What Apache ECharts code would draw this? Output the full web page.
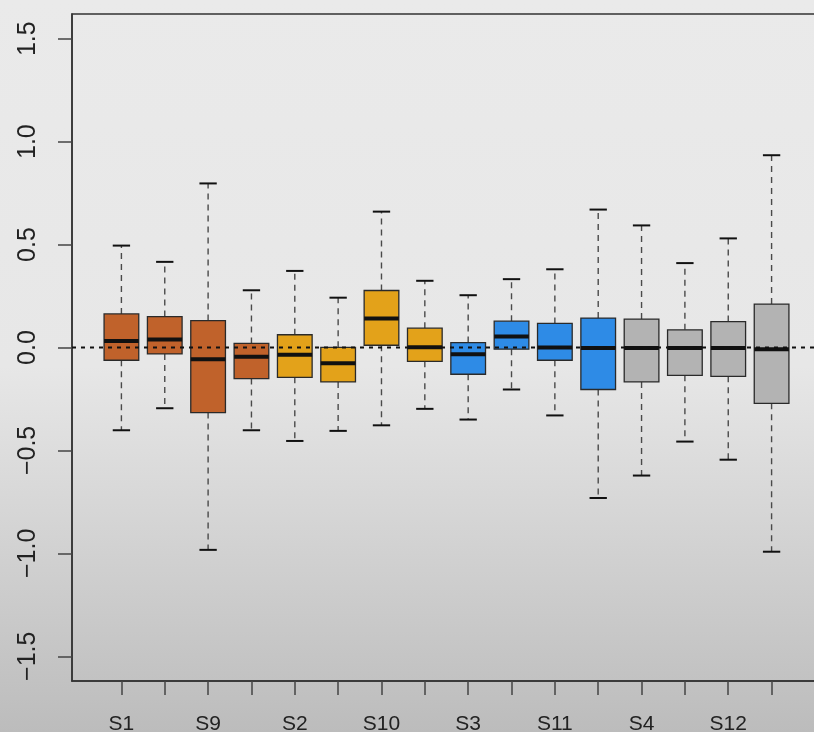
<!DOCTYPE html>
<html>
<head>
<meta charset="utf-8">
<script src="https://cdn.jsdelivr.net/npm/echarts@6/dist/echarts.min.js"></script>
<style>html,body{margin:0;padding:0;}#c{width:814px;height:732px;}</style>
</head>
<body>
<div id="c"></div>
<script>
// categories in plotting order (only every other label is drawn, as in the original)
const categories = ['S1','S5','S9','S13','S2','S6','S10','S14','S3','S7','S11','S15','S4','S8','S12','S16'];
const groupOf = [0,0,0,0,1,1,1,1,2,2,2,2,3,3,3,3];
const groupColors = ['#C0622B','#E3A21A','#2E8BE6','#B3B3B3'];
// box statistics
const lowWhisker = [-0.402,-0.295,-0.983,-0.402,-0.454,-0.405,-0.378,-0.298,-0.350,-0.204,-0.330,-0.731,-0.622,-0.457,-0.545,-0.992];
const q1         = [-0.062,-0.031,-0.316,-0.151,-0.145,-0.167, 0.011,-0.067,-0.130,-0.008,-0.062,-0.204,-0.167,-0.135,-0.140,-0.271];
const medians    = [ 0.032, 0.039,-0.057,-0.045,-0.035,-0.077, 0.141, 0.001,-0.033, 0.054, 0.000,-0.003,-0.003,-0.003,-0.003,-0.008];
const q3         = [ 0.163, 0.150, 0.131, 0.020, 0.062, 0.001, 0.277, 0.094, 0.024, 0.128, 0.117, 0.143, 0.138, 0.086, 0.126, 0.211];
const highWhisker= [ 0.495, 0.416, 0.797, 0.278, 0.372, 0.242, 0.660, 0.324, 0.254, 0.332, 0.380, 0.670, 0.593, 0.410, 0.530, 0.934];
const yTicks = [-1.5,-1.0,-0.5,0.0,0.5,1.0,1.5];
const refLineY = 0;

const boxData = categories.map((c, i) => [i + 1, lowWhisker[i], q1[i], medians[i], q3[i], highWhisker[i], groupOf[i]]);
const xTicks = categories.map((c, i) => i + 1);
const xLabelPos = xTicks.filter((v, i) => i % 2 === 0);

function renderBox(params, api) {
  const x = api.value(0);
  const lo = api.value(1), b1 = api.value(2), md = api.value(3), b3 = api.value(4), hi = api.value(5);
  const col = groupColors[api.value(6)];
  const half = api.size([0.8, 0])[0] / 2;
  const capHalf = half / 2;
  const pLo = api.coord([x, lo]), pQ1 = api.coord([x, b1]), pMd = api.coord([x, md]), pQ3 = api.coord([x, b3]), pHi = api.coord([x, hi]);
  const cx = pMd[0];
  const dash = {stroke: '#4a4a4a', lineWidth: 1.4, lineDash: [6, 5]};
  const cap = {stroke: '#111', lineWidth: 2};
  return {
    type: 'group',
    children: [
      {type: 'line', shape: {x1: cx, y1: pQ3[1], x2: cx, y2: pHi[1]}, style: dash},
      {type: 'line', shape: {x1: cx, y1: pQ1[1], x2: cx, y2: pLo[1]}, style: dash},
      {type: 'line', shape: {x1: cx - capHalf, y1: pHi[1], x2: cx + capHalf, y2: pHi[1]}, style: cap},
      {type: 'line', shape: {x1: cx - capHalf, y1: pLo[1], x2: cx + capHalf, y2: pLo[1]}, style: cap},
      {type: 'rect', shape: {x: cx - half, y: pQ3[1], width: 2 * half, height: pQ1[1] - pQ3[1]},
       style: {fill: col, stroke: '#2a2a2a', lineWidth: 1.3}},
      {type: 'line', shape: {x1: cx - half, y1: pMd[1], x2: cx + half, y2: pMd[1]}, style: {stroke: '#111', lineWidth: 4}}
    ]
  };
}

const chart = echarts.init(document.getElementById('c'), null, {renderer: 'canvas'});
chart.setOption({
  animation: false,
  backgroundColor: {type: 'linear', x: 0, y: 0, x2: 0, y2: 1,
    colorStops: [{offset: 0, color: '#EAEAEA'}, {offset: 0.5, color: '#E7E7E7'}, {offset: 1, color: '#BCBCBC'}]},
  grid: {left: 72, top: 14, width: 749, height: 667, show: true, borderColor: '#333', borderWidth: 1.5,
    backgroundColor: 'transparent', outerBoundsMode: 'none', containLabel: false},
  xAxis: {
    type: 'value', min: -0.14, max: 17.14, position: 'bottom',
    splitLine: {show: false},
    axisLine: {show: true, onZero: false, lineStyle: {color: '#333', width: 1.5}},
    axisTick: {show: true, length: 14, inside: false, lineStyle: {color: '#444', width: 1.5}, customValues: xTicks},
    axisLabel: {customValues: xLabelPos, margin: 33, fontSize: 21, color: '#222', fontFamily: 'Liberation Sans',
      formatter: v => categories[Math.round(v) - 1]}
  },
  yAxis: {
    type: 'value', min: -1.62, max: 1.62, position: 'left',
    splitLine: {show: false},
    axisLine: {show: true, onZero: false, lineStyle: {color: '#333', width: 1.5}},
    axisTick: {show: true, length: 14, lineStyle: {color: '#444', width: 1.5}, customValues: yTicks},
    axisLabel: {customValues: yTicks, rotate: 90, margin: 31, fontSize: 25, color: '#222', fontFamily: 'Liberation Sans',
      formatter: v => v.toFixed(1).replace('-', '\u2212')}
  },
  series: [
    {type: 'custom', renderItem: renderBox, data: boxData, encode: {x: 0, y: [1, 5]}, z: 2, clip: false},
    {type: 'line', data: [[-0.14, refLineY], [17.14, refLineY]], symbol: 'none', z: 5,
     lineStyle: {color: '#111', width: 2, type: [4, 5]}, silent: true}
  ]
});
</script>
</body>
</html>
